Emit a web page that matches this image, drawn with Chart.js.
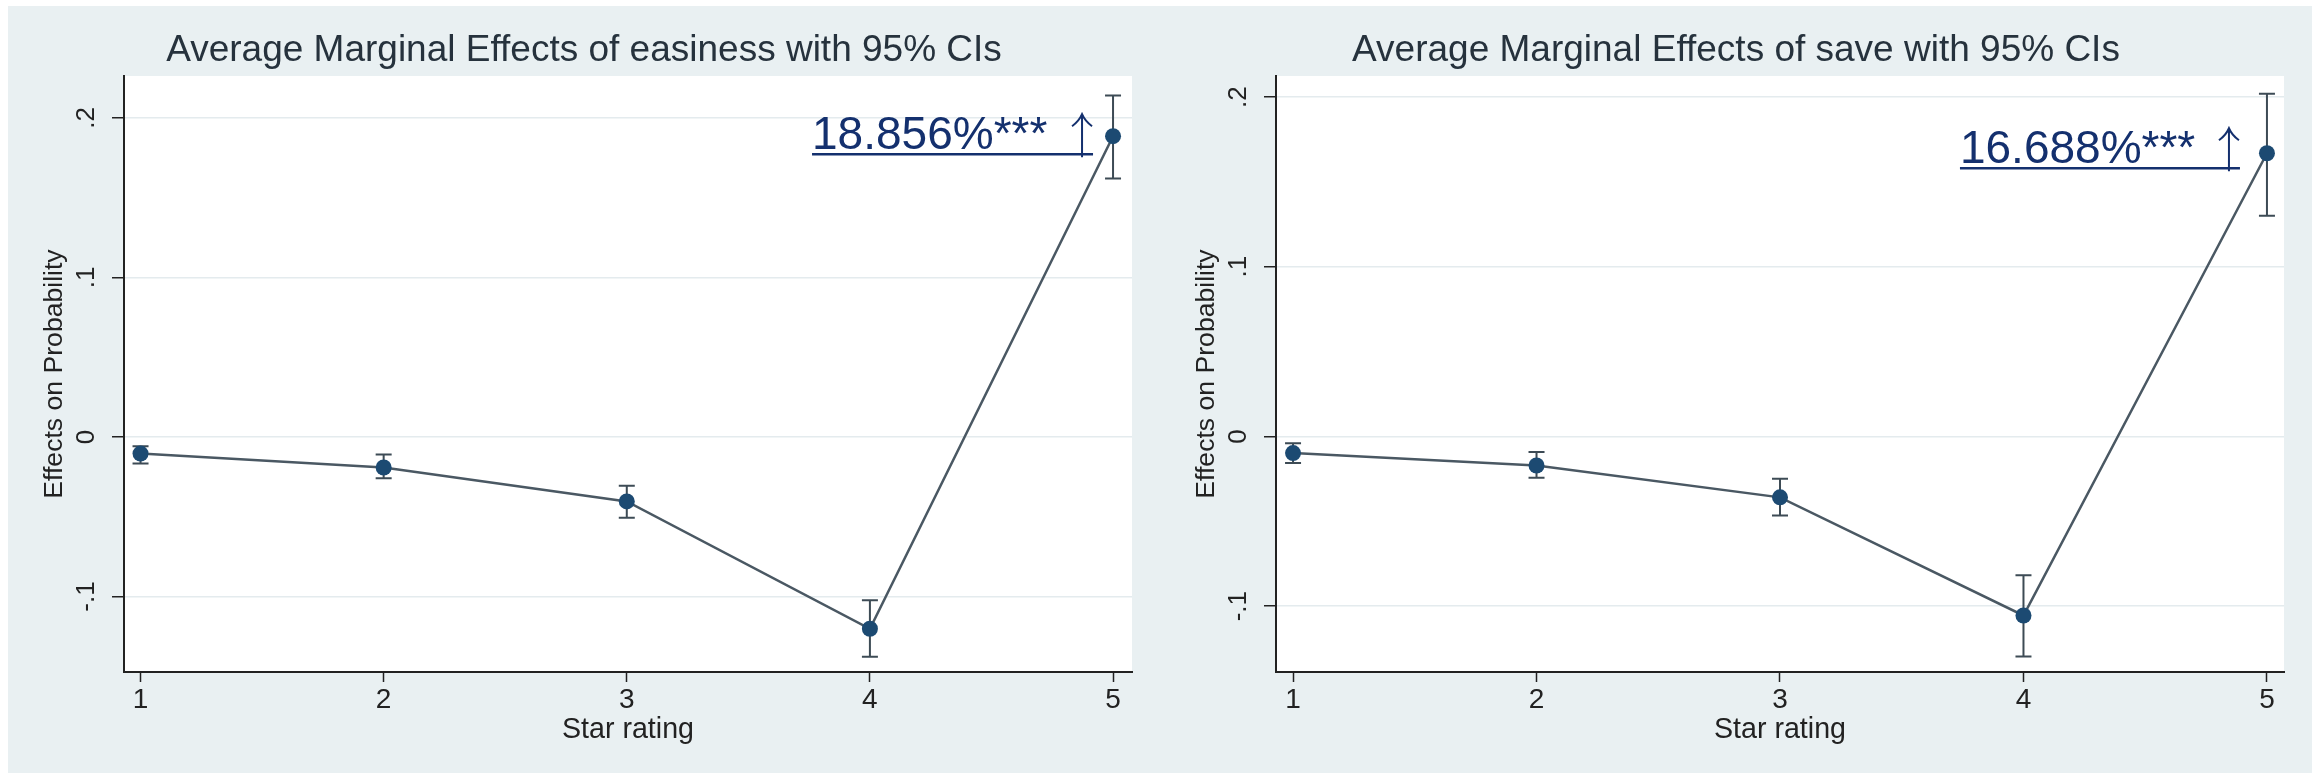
<!DOCTYPE html>
<html>
<head>
<meta charset="utf-8">
<script src="https://cdn.jsdelivr.net/npm/chart.js@4.4.0/dist/chart.umd.min.js"></script>
<style>
  html, body { margin: 0; padding: 0; background: #ffffff; }
  #panel { position: absolute; left: 8px; top: 6px; width: 2304px; height: 767px; background: #e9f0f2; }
  canvas { position: absolute; top: 0; }
  #cEasy { left: 0; }
  #cSave { left: 1152px; }
</style>
</head>
<body>
<div id="panel">
  <canvas id="cEasy" width="1152" height="767"></canvas>
  <canvas id="cSave" width="1152" height="767"></canvas>
</div>
<script>
// ---- data ----
const stars = [1, 2, 3, 4, 5];

const easinessAme = [-0.0104, -0.0191, -0.0404, -0.1202, 0.18856];
const easinessLo  = [-0.0166, -0.0259, -0.0506, -0.1378, 0.1620];
const easinessHi  = [-0.0058, -0.0110, -0.0305, -0.1023, 0.2140];

const saveAme = [-0.0098, -0.0171, -0.0359, -0.1055, 0.16688];
const saveLo  = [-0.0156, -0.0243, -0.0466, -0.1296, 0.1300];
const saveHi  = [-0.0040, -0.0092, -0.0249, -0.0818, 0.2020];

const yTickValues = [-0.1, 0, 0.1, 0.2];
const yTickLabels = ['-.1', '0', '.1', '.2'];
const xTickValues = [1, 2, 3, 4, 5];

const titleEasy = 'Average Marginal Effects of easiness with 95% CIs';
const titleSave = 'Average Marginal Effects of save with 95% CIs';
const noteEasy = '18.856%***';
const noteSave = '16.688%***';

// ── colours ──
const NAVY = '#1c4a72';
const LINE = '#4a5863';
const INK = '#222222';
const NOTE = '#14306e';
const FONT = '"Liberation Sans", Arial, sans-serif';

// white plot region + graph title (centred on the whole panel)
const plotBg = {
  id: 'plotBg',
  beforeDraw(chart, args, o) {
    const { ctx, chartArea: a } = chart;
    ctx.save();
    ctx.fillStyle = '#ffffff';
    ctx.fillRect(a.left, a.top, a.right - a.left, a.bottom - a.top);
    ctx.fillStyle = '#26323d';
    ctx.font = '37px ' + FONT;
    ctx.textAlign = 'center';
    ctx.textBaseline = 'middle';
    ctx.fillText(o.title, chart.width / 2, 45);
    ctx.restore();
  }
};

// CI whiskers
const errorBars = {
  id: 'errorBars',
  beforeDatasetsDraw(chart, args, opts) {
    const { ctx, scales } = chart;
    ctx.save();
    ctx.strokeStyle = '#3d4b55';
    ctx.lineWidth = 2;
    opts.lo.forEach((lo, i) => {
      const x = scales.x.getPixelForValue(stars[i]);
      const y1 = scales.y.getPixelForValue(lo);
      const y2 = scales.y.getPixelForValue(opts.hi[i]);
      ctx.beginPath();
      ctx.moveTo(x, y1); ctx.lineTo(x, y2);
      ctx.moveTo(x - 8, y1); ctx.lineTo(x + 8, y1);
      ctx.moveTo(x - 8, y2); ctx.lineTo(x + 8, y2);
      ctx.stroke();
    });
    ctx.restore();
  }
};

// Stata-style rotated y labels
const rotatedYLabels = {
  id: 'rotatedYLabels',
  afterDraw(chart) {
    const { ctx, scales } = chart;
    ctx.save();
    ctx.fillStyle = INK;
    ctx.font = '26px ' + FONT;
    ctx.textAlign = 'center';
    ctx.textBaseline = 'middle';
    yTickValues.forEach((v, i) => {
      const y = scales.y.getPixelForValue(v);
      ctx.save();
      ctx.translate(79, y);
      ctx.rotate(-Math.PI / 2);
      ctx.fillText(yTickLabels[i], 0, 0);
      ctx.restore();
    });
    ctx.restore();
  }
};

// "xx.xxx%*** ↑" note next to the 5-star estimate
const starNote = {
  id: 'starNote',
  afterDatasetsDraw(chart, args, o) {
    const { ctx, scales } = chart;
    const px = scales.x.getPixelForValue(5);
    const py = scales.y.getPixelForValue(o.value);
    const uy = py + o.dy;
    const x0 = px - o.left;
    const ax = px - o.arrow;
    ctx.save();
    ctx.fillStyle = NOTE;
    ctx.strokeStyle = NOTE;
    ctx.font = '46px ' + FONT;
    ctx.textAlign = 'left';
    ctx.textBaseline = 'alphabetic';
    ctx.fillText(o.text, x0, uy - 5);
    // underline
    ctx.lineWidth = 2.5;
    ctx.beginPath();
    ctx.moveTo(x0, uy); ctx.lineTo(px - o.end, uy);
    ctx.stroke();
    // arrow
    ctx.lineWidth = 2;
    ctx.beginPath();
    ctx.moveTo(ax, uy + 3); ctx.lineTo(ax, uy - 40);
    ctx.moveTo(ax - 10, uy - 28); ctx.quadraticCurveTo(ax - 3, uy - 33, ax, uy - 40);
    ctx.quadraticCurveTo(ax + 3, uy - 33, ax + 10, uy - 28);
    ctx.stroke();
    ctx.restore();
  }
};

function makeChart(id, cfg) {
  const ctx = document.getElementById(id).getContext('2d');
  return new Chart(ctx, {
    type: 'line',
    data: {
      datasets: [{
        data: stars.map((s, i) => ({ x: s, y: cfg.ame[i] })),
        borderColor: LINE,
        borderWidth: 2.5,
        backgroundColor: NAVY,
        pointBackgroundColor: NAVY,
        pointBorderColor: NAVY,
        pointRadius: 8,
        pointBorderWidth: 0,
        tension: 0
      }]
    },
    options: {
      responsive: false,
      animation: false,
      devicePixelRatio: 1,
      layout: { padding: { left: 0, right: 28, top: 70, bottom: 0 } },
      plugins: {
        legend: { display: false },
        tooltip: { enabled: false },
        title: { display: false },
        plotBg: { title: cfg.title },
        errorBars: { lo: cfg.lo, hi: cfg.hi },
        starNote: cfg.note
      },
      scales: {
        x: {
          type: 'linear',
          min: cfg.xMin,
          max: cfg.xMax,
          afterBuildTicks: (s) => { s.ticks = xTickValues.map(v => ({ value: v })); },
          afterFit: (s) => { s.height = 101; },
          grid: { drawOnChartArea: false, tickLength: 10, tickColor: INK, tickWidth: 1.5 },
          border: { display: true, color: INK, width: 2 },
          ticks: {
            color: INK,
            padding: 1,
            font: { family: FONT, size: 28 },
            callback: (v) => String(v)
          },
          title: {
            display: true,
            text: 'Star rating',
            color: INK,
            font: { family: FONT, size: 28.6 },
            padding: { top: 0, bottom: 26 }
          }
        },
        y: {
          type: 'linear',
          min: cfg.yMin,
          max: cfg.yMax,
          afterBuildTicks: (s) => { s.ticks = yTickValues.map(v => ({ value: v })); },
          afterFit: (s) => { s.width = 116; },
          grid: { color: '#e4ebee', lineWidth: 1.5, tickLength: 12, tickColor: INK, tickWidth: 1.5 },
          border: { display: true, color: INK, width: 2 },
          ticks: { display: false },
          title: {
            display: true,
            text: 'Effects on Probability',
            color: INK,
            font: { family: FONT, size: 26.6 },
            padding: { top: 31, bottom: 0 }
          }
        }
      }
    },
    plugins: [plotBg, errorBars, rotatedYLabels, starNote]
  });
}

makeChart('cEasy', {
  title: titleEasy,
  ame: easinessAme, lo: easinessLo, hi: easinessHi,
  xMin: 0.932, xMax: 5.078,
  yMin: -0.1473, yMax: 0.2263,
  note: { text: noteEasy, value: easinessAme[4], dy: 18, left: 301, arrow: 31, end: 20 }
});

makeChart('cSave', {
  title: titleSave,
  ame: saveAme, lo: saveLo, hi: saveHi,
  xMin: 0.930, xMax: 5.070,
  yMin: -0.1388, yMax: 0.2124,
  note: { text: noteSave, value: saveAme[4], dy: 15, left: 307, arrow: 38, end: 27 }
});
</script>
</body>
</html>
